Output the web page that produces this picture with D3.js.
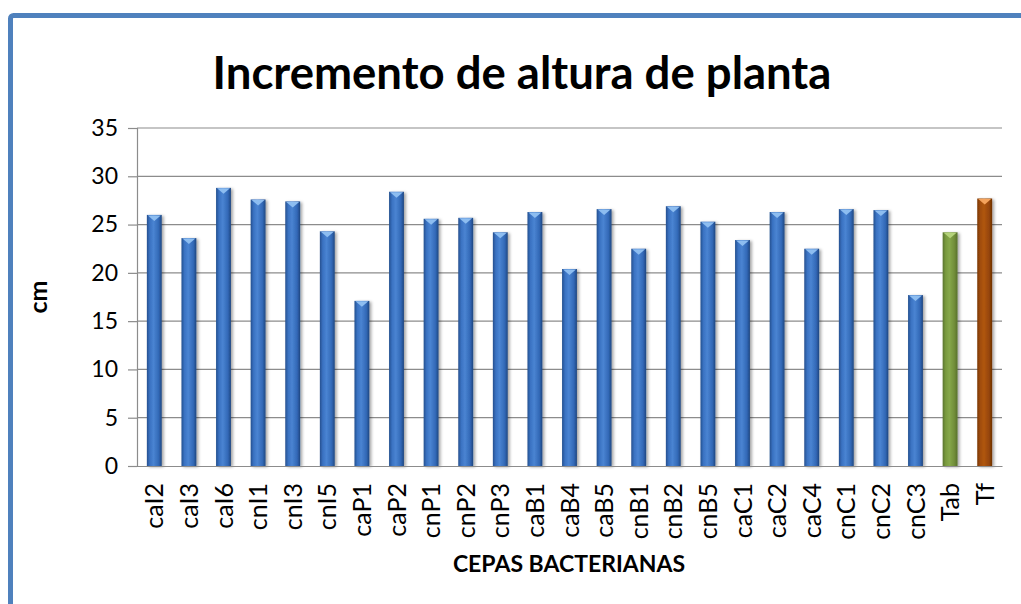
<!DOCTYPE html>
<html lang="es">
<head>
<meta charset="UTF-8">
<title>Incremento de altura de planta</title>
<script src="https://cdn.jsdelivr.net/npm/d3@7"></script>
<style>
  body { margin: 0; background: #fff; }
  text { font-family: Lato, "Open Sans", sans-serif; fill: #000; }
</style>
</head>
<body>
<div id="chart"></div>
<script>
// strains on the x axis
const cepas = ["caI2", "caI3", "caI6", "cnI1", "cnI3", "cnI5", "caP1", "caP2", "cnP1", "cnP2",
  "cnP3", "caB1", "caB4", "caB5", "cnB1", "cnB2", "cnB5", "caC1", "caC2", "caC4",
  "cnC1", "cnC2", "cnC3", "Tab", "Tf"];
// height increment (cm)
const incremento = [26.0, 23.6, 28.8, 27.6, 27.4, 24.3, 17.1, 28.4, 25.6, 25.7,
  24.2, 26.3, 20.4, 26.6, 22.5, 26.9, 25.3, 23.4, 26.3, 22.5,
  26.6, 26.5, 17.7, 24.2, 27.7];
// which colour group each bar belongs to
const grupo = ["c", "c", "c", "c", "c", "c", "c", "c", "c", "c",
  "c", "c", "c", "c", "c", "c", "c", "c", "c", "c",
  "c", "c", "c", "ab", "f"];
const yTicks = [0, 5, 10, 15, 20, 25, 30, 35];

const width = 1021, height = 604;
const mLeft = 137, mRight = 1002, mTop = 128, mBottom = 466;

const svg = d3.select("#chart").append("svg")
  .attr("width", width).attr("height", height);

const defs = svg.append("defs");
const colores = {
  c:  { body: ["#24508f", "#3a72c2", "#4a84d2", "#3268b6", "#1f4680"], cap: "#8dbdf0" },
  ab: { body: ["#5c7530", "#789a3e", "#86a84a", "#6f8c38", "#55702b"], cap: "#b4d27a" },
  f:  { body: ["#7a3604", "#a04c0a", "#b0560e", "#954508", "#6e3003"], cap: "#f5a35c" }
};
Object.keys(colores).forEach(k => {
  const g = defs.append("linearGradient").attr("id", "grad-" + k)
    .attr("x1", 0).attr("x2", 1).attr("y1", 0).attr("y2", 0);
  [0, 0.2, 0.45, 0.8, 1].forEach((o, i) => {
    g.append("stop").attr("offset", o).attr("stop-color", colores[k].body[i]);
  });
});
const sombra = defs.append("filter").attr("id", "sombra")
  .attr("x", "-50%").attr("y", "-10%").attr("width", "200%").attr("height", "130%");
sombra.append("feDropShadow").attr("dx", 2).attr("dy", 1)
  .attr("stdDeviation", 1.5).attr("flood-color", "#000").attr("flood-opacity", 0.35);

const x = d3.scaleBand().domain(cepas).range([mLeft, mRight])
  .paddingInner(0.57).paddingOuter(0.285);
const y = d3.scaleLinear().domain([0, 35]).range([mBottom, mTop]);

// gridlines
svg.append("g").selectAll("line").data(yTicks.filter(d => d > 0)).join("line")
  .attr("x1", mLeft).attr("x2", mRight)
  .attr("y1", d => y(d)).attr("y2", d => y(d))
  .attr("stroke", "#8c8c8c").attr("stroke-width", 1.2);

// y axis
const yAxis = svg.append("g").attr("transform", `translate(${mLeft},0)`)
  .call(d3.axisLeft(y).tickValues(yTicks).tickSize(9).tickPadding(10));
yAxis.select(".domain").attr("stroke", "#8c8c8c").attr("stroke-width", 1.2);
yAxis.selectAll(".tick line").attr("stroke", "#8c8c8c").attr("stroke-width", 1.2);
yAxis.selectAll(".tick text").attr("font-size", 23).attr("font-family", "Lato, sans-serif").attr("fill", "#000");

// bars
const datos = cepas.map((c, i) => ({ c: c, v: incremento[i], g: grupo[i] }));
const barras = svg.append("g").selectAll("g").data(datos).join("g");
barras.append("rect")
  .attr("x", d => x(d.c)).attr("width", x.bandwidth())
  .attr("y", d => y(d.v)).attr("height", d => y(0) - y(d.v))
  .attr("fill", d => `url(#grad-${d.g})`)
  .attr("filter", "url(#sombra)");
barras.append("path")
  .attr("d", d => {
    const x0 = x(d.c), w = x.bandwidth(), y0 = y(d.v);
    return `M${x0 + 1},${y0 + 0.5} L${x0 + w - 1},${y0 + 0.5} L${x0 + w / 2},${y0 + 6} Z`;
  })
  .attr("fill", d => colores[d.g].cap);

// x axis
const xAxis = svg.append("g").attr("transform", `translate(0,${mBottom})`)
  .call(d3.axisBottom(x).tickSize(0).tickPadding(0));
xAxis.select(".domain").attr("stroke", "#8c8c8c").attr("stroke-width", 1.2);
xAxis.selectAll(".tick text")
  .attr("font-size", 25).attr("font-family", "Lato, sans-serif").attr("fill", "#000")
  .attr("text-anchor", "end")
  .attr("transform", "translate(0,17) rotate(-90)")
  .attr("x", 0).attr("y", 0).attr("dy", "0.36em");

// titles
svg.append("text").attr("x", 522).attr("y", 89)
  .attr("text-anchor", "middle").attr("font-size", 45.5).attr("font-weight", "bold")
  .text("Incremento de altura de planta");
svg.append("text").attr("x", 569).attr("y", 572)
  .attr("text-anchor", "middle").attr("font-size", 23).attr("font-weight", "bold")
  .text("CEPAS BACTERIANAS");
svg.append("text")
  .attr("transform", `translate(47,${(mTop + mBottom) / 2}) rotate(-90)`)
  .attr("text-anchor", "middle").attr("font-size", 25).attr("font-weight", "bold")
  .text("cm");

// chart frame (only top and left edges fall inside the picture)
svg.append("rect").attr("x", 10.5).attr("y", 15.5)
  .attr("width", 1200).attr("height", 800).attr("rx", 3)
  .attr("fill", "none").attr("stroke", "#4f81bd").attr("stroke-width", 5);
</script>
</body>
</html>
